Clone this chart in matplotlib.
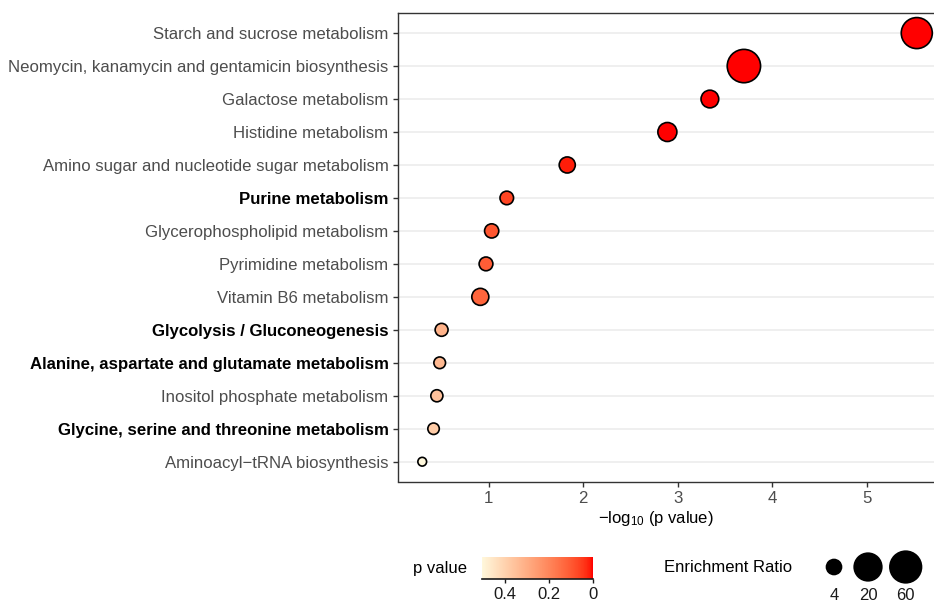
import numpy as np
import matplotlib
matplotlib.use("Agg")
import matplotlib.pyplot as plt
from matplotlib.colors import ListedColormap, Normalize
from matplotlib.colorbar import ColorbarBase

plt.rcParams['font.family'] = ['Liberation Sans', 'DejaVu Sans']
plt.rcParams['mathtext.fontset'] = 'custom'
plt.rcParams['mathtext.rm'] = 'Liberation Sans'
plt.rcParams['mathtext.it'] = 'Liberation Sans:italic'
plt.rcParams['mathtext.bf'] = 'Liberation Sans:bold'

# ---------------- data ----------------
pathways = [
    "Starch and sucrose metabolism",
    "Neomycin, kanamycin and gentamicin biosynthesis",
    "Galactose metabolism",
    "Histidine metabolism",
    "Amino sugar and nucleotide sugar metabolism",
    "Purine metabolism",
    "Glycerophospholipid metabolism",
    "Pyrimidine metabolism",
    "Vitamin B6 metabolism",
    "Glycolysis / Gluconeogenesis",
    "Alanine, aspartate and glutamate metabolism",
    "Inositol phosphate metabolism",
    "Glycine, serine and threonine metabolism",
    "Aminoacyl\u2212tRNA biosynthesis",
]
neg_log10_p = [5.53, 3.70, 3.34, 2.89, 1.83, 1.19, 1.03, 0.97, 0.91,
               0.50, 0.48, 0.45, 0.415, 0.295]
enrichment_ratio = [54, 98, 6.0, 7.0, 4.8, 3.3, 3.6, 3.4, 5.5,
                    3.0, 2.4, 2.6, 2.3, 1.3]
highlighted = [False, False, False, False, False, True, False, False, False,
               True, True, False, True, False]
size_breaks = [4, 20, 60]
pvalue_ticks = [0, 0.2, 0.4]
pvalue_ticklabels = ["0", "0.2", "0.4"]
x_ticks = [1, 2, 3, 4, 5]

# ---------------- scales ----------------
W, H = 934, 603
DPI = 100

# size scale: enrichment ratio -> outer marker diameter (px)
_er_anchor = [1, 2, 4, 8, 20, 60, 120]
_d_anchor = [9.5, 12.5, 16.7, 22.0, 29.3, 33.3, 36.0]
EDGE_PT = 1.2


def size_scale(er, edge_pt=EDGE_PT):
    d_px = np.interp(np.asarray(er, float), _er_anchor, _d_anchor)
    inner_pt = d_px * 72.0 / DPI - edge_pt
    return inner_pt ** 2


# colour scale: Lab interpolation red (p=0) -> cornsilk (p=max)
def _srgb_to_lab(rgb):
    rgb = np.asarray(rgb, float)
    c = np.where(rgb <= 0.04045, rgb / 12.92, ((rgb + 0.055) / 1.055) ** 2.4)
    M = np.array([[0.4124564, 0.3575761, 0.1804375],
                  [0.2126729, 0.7151522, 0.0721750],
                  [0.0193339, 0.1191920, 0.9503041]])
    xyz = M @ c / np.array([0.95047, 1.0, 1.08883])
    f = np.where(xyz > 0.008856, np.cbrt(xyz), 7.787 * xyz + 16 / 116)
    return np.array([116 * f[1] - 16, 500 * (f[0] - f[1]), 200 * (f[1] - f[2])])


def _lab_to_srgb(lab):
    L, a, b = lab
    fy = (L + 16) / 116
    fx = fy + a / 500
    fz = fy - b / 200
    f = np.array([fx, fy, fz])
    xyz = np.where(f ** 3 > 0.008856, f ** 3, (f - 16 / 116) / 7.787)
    xyz = xyz * np.array([0.95047, 1.0, 1.08883])
    Minv = np.linalg.inv(np.array([[0.4124564, 0.3575761, 0.1804375],
                                   [0.2126729, 0.7151522, 0.0721750],
                                   [0.0193339, 0.1191920, 0.9503041]]))
    lin = Minv @ xyz
    lin = np.clip(lin, 0, 1)
    s = np.where(lin <= 0.0031308, 12.92 * lin, 1.055 * lin ** (1 / 2.4) - 0.055)
    return np.clip(s, 0, 1)


low_lab = _srgb_to_lab([1.0, 0.0, 0.0])
high_lab = _srgb_to_lab([1.0, 248 / 255, 220 / 255])
cmap = ListedColormap([_lab_to_srgb(low_lab + t * (high_lab - low_lab))
                       for t in np.linspace(0, 1, 256)])

pvals = 10 ** (-np.asarray(neg_log10_p))
norm = Normalize(vmin=0, vmax=pvals.max())


def px(x0, y0, x1, y1):
    return [x0 / W, 1 - y1 / H, (x1 - x0) / W, (y1 - y0) / H]


# ---------------- figure ----------------
fig = plt.figure(figsize=(W / DPI, H / DPI), dpi=DPI)
ax = fig.add_axes(px(397.5, 13.3, 941.5, 481.5))

x = np.asarray(neg_log10_p)
rng = x.max() - x.min()
ax.set_xlim(x.min() - 0.05 * rng, x.max() + 0.05 * rng)
ypos = np.arange(len(pathways))
ax.set_ylim(len(pathways) - 1 + 0.6, -0.6)

ax.scatter(x, ypos, s=size_scale(enrichment_ratio), c=pvals, cmap=cmap,
           norm=norm, edgecolors='black', linewidths=EDGE_PT, zorder=3)

ax.set_axisbelow(True)
ax.yaxis.grid(True, color='#EBEBEB', lw=1.1)
ax.xaxis.grid(False)
for sp in ax.spines.values():
    sp.set_color('#333333')
    sp.set_linewidth(1.0)

ax.set_xticks(x_ticks)
ax.set_xticklabels([str(t) for t in x_ticks])
ax.set_yticks(ypos)
ax.set_yticklabels(pathways)
ax.tick_params(axis='both', length=3.3, width=1.0, color='#333333',
               labelsize=12.1, labelcolor='#4D4D4D', pad=3.2)
for lbl, hl in zip(ax.get_yticklabels(), highlighted):
    if hl:
        lbl.set_fontweight('bold')
        lbl.set_color('black')

fig.text(656 / W, 1 - 518 / H, r'$\mathregular{-log_{10}}$ (p value)',
         ha='center', va='center', fontsize=12, color='black')

# ---------------- colour legend ----------------
fig.text(412.7 / W, 1 - 569 / H, 'p value', ha='left', va='center',
         fontsize=12, color='black')
cax = fig.add_axes(px(481.7, 556.7, 592.7, 579.3))
cb = ColorbarBase(cax, cmap=cmap, norm=norm, orientation='horizontal')
cax.set_xlim(norm.vmax, norm.vmin)
cb.set_ticks(pvalue_ticks)
cb.set_ticklabels(pvalue_ticklabels)
cb.outline.set_visible(False)
cax.plot([0, 1], [0, 0], transform=cax.transAxes, color='#1a1a1a', lw=1.2,
         clip_on=False)
cax.tick_params(axis='x', direction='out', length=2.6, width=1.0,
                color='#1a1a1a', labelsize=12, labelcolor='#1a1a1a', pad=3.0)

# ---------------- size legend ----------------
fig.text(664 / W, 1 - 567 / H, 'Enrichment Ratio', ha='left', va='center',
         fontsize=12, color='black')
lax = fig.add_axes(px(810, 540, 934, 603))
lax.set_xlim(810, 934)
lax.set_ylim(603, 540)
lax.axis('off')
key_x = [834, 868, 905.7]
lax.scatter(key_x, [567] * len(size_breaks),
            s=size_scale(size_breaks, edge_pt=0), c='black', linewidths=0)
for kx, br in zip(key_x, size_breaks):
    lax.text(kx, 596, str(br), ha='center', va='center', fontsize=12,
             color='#1a1a1a')

fig.savefig('out.png', dpi=DPI)
